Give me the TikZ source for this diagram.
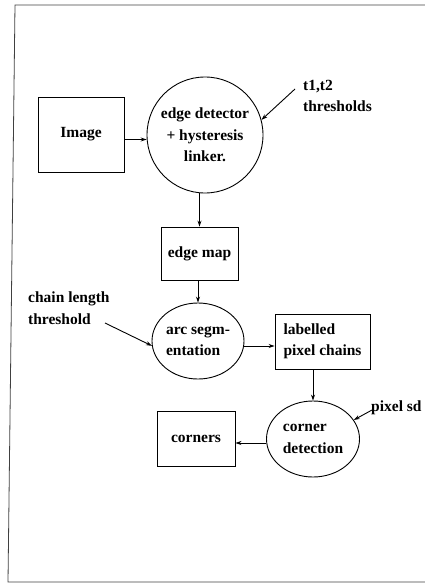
\documentclass[tikz,border=0pt]{standalone}
\usepackage{fontspec}
\setmainfont{Liberation Serif}
\usetikzlibrary{shapes.geometric,arrows.meta}
\begin{document}
\begin{tikzpicture}[x=1pt,y=-1pt,
  every node/.style={font=\bfseries\fontsize{15.5}{21.5}\selectfont, inner sep=0pt},
  box/.style={draw, line width=0.9pt, rectangle},
  oval/.style={draw, line width=0.9pt, ellipse},
  arr/.style={line width=0.9pt, -{Stealth[length=6pt,width=4pt]}},
  frame/.style={draw=black!75, line width=0.8pt}]
\useasboundingbox (0,0) rectangle (425,583);
% frame
\draw[frame] (425,5) -- (15,5) -- (8,582) -- (425,582);
% nodes
\node[box, minimum width=86pt, minimum height=75pt] (img) at (81,134.5) {Image};
\node[draw, line width=0.9pt, circle, minimum size=116pt, align=center] (edge) at (205,135) {edge detector\\+ hysteresis\\linker.};
\node[box, minimum width=77pt, minimum height=53pt] (emap) at (199.5,253.5) {edge map};
\node[oval, minimum width=92pt, minimum height=76pt, align=left] (arc) at (198,341) {arc segm-\\entation};
\node[box, minimum width=95pt, minimum height=55pt, align=left] (lpc) at (322.5,341.5) {labelled\\pixel chains};
\node[oval, minimum width=93pt, minimum height=76pt, align=left] (cd) at (313,439) {corner\\detection};
\node[box, minimum width=78pt, minimum height=55pt] (corn) at (196,438.5) {corners};
% labels
\node[anchor=west, align=left] (tt) at (303,96) {t1,t2\\thresholds};
\node[anchor=west, align=left] (cl) at (28,308) {chain length\\threshold};
\node[anchor=west] (psd) at (371,408) {pixel sd};
\coordinate (ta) at (295,89);
\coordinate (ca) at (105,323);
\coordinate (pa) at (372,410);
% connectors
\draw[arr] ([yshift=-5pt]img.east) -- ([yshift=-5pt]img.east -| edge.west);
\draw[arr] (edge.south -| emap.north) -- (emap.north);
\draw[arr] (emap.south -| arc.north) -- (arc.north);
\draw[arr] (arc.east |- 0,346) -- (lpc.west |- 0,346);
\draw[arr] (lpc.south -| cd.north) -- (cd.north);
\draw[arr] (cd.west |- 0,443) -- (corn.east |- 0,443);
\draw[arr] (ta) -- (edge.15);
\draw[arr] (ca) -- (arc.186);
\draw[arr] (pa) -- (cd.25);
\end{tikzpicture}
\end{document}
